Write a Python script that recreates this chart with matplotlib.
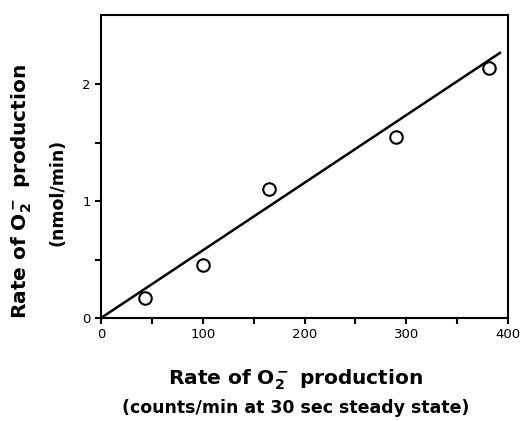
import numpy as np
import matplotlib
matplotlib.use('Agg')
import matplotlib.pyplot as plt
from matplotlib.ticker import FixedLocator

plt.rcParams['font.family'] = 'DejaVu Sans'
plt.rcParams['mathtext.fontset'] = 'dejavusans'

# data
counts = [43, 100, 165, 290, 381]
rate = [0.17, 0.45, 1.10, 1.55, 2.14]
fit_x = [0, 392]
slope = 0.00578

x_ticks = [0, 100, 200, 300, 400]
y_ticks = [0, 1, 2]
x_minor = [50, 150, 250, 350]
y_minor = [0.5, 1.5]

fig = plt.figure(figsize=(5.21, 4.21), dpi=100)
ax = fig.add_axes([101 / 521, 1 - 318 / 421, 407 / 521, 303 / 421])

ax.plot(fit_x, [slope * v for v in fit_x], color='black', lw=1.8)
ax.plot(counts, rate, 'o', mfc='white', mec='black', ms=9, mew=1.5)

ax.set_xlim(0, 400)
ax.set_ylim(0, 2.59)
ax.set_xticks(x_ticks)
ax.set_yticks(y_ticks)
ax.xaxis.set_minor_locator(FixedLocator(x_minor))
ax.yaxis.set_minor_locator(FixedLocator(y_minor))
ax.tick_params(which='both', direction='out', length=4, width=1.5, labelsize=9.5)
for s in ax.spines.values():
    s.set_linewidth(1.5)

fig.text(22 / 521, 1 - 191 / 421, r'Rate of $\mathbf{O_2^-}$ production',
         rotation=90, ha='center', va='center', fontsize=14.5, fontweight='bold')
fig.text(57 / 521, 1 - 192 / 421, '(nmol/min)', rotation=90,
         ha='center', va='center', fontsize=12.5, fontweight='bold')
fig.text(296 / 521, 1 - 380 / 421, r'Rate of $\mathbf{O_2^-}$ production',
         ha='center', va='center', fontsize=14.5, fontweight='bold')
fig.text(296 / 521, 1 - 408 / 421, '(counts/min at 30 sec steady state)',
         ha='center', va='center', fontsize=12.5, fontweight='bold')

fig.savefig('out.png', dpi=100)
